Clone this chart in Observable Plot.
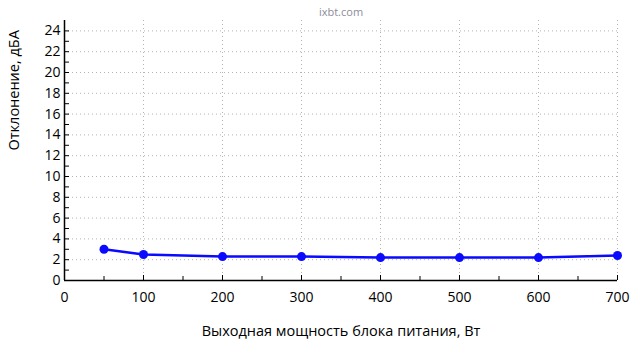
<!DOCTYPE html>
<html><head><meta charset="utf-8">
<script src="https://cdn.jsdelivr.net/npm/d3@7"></script>
<script src="https://cdn.jsdelivr.net/npm/@observablehq/plot@0.6"></script>
<style>body{margin:0;background:#fff;} #c{width:640px;height:360px;}</style>
</head><body><div id="c"></div>
<script>
const power = [50, 100, 200, 300, 400, 500, 600, 700];
const deviation = [3.0, 2.5, 2.3, 2.3, 2.2, 2.2, 2.2, 2.4];
const xMajor = [0, 100, 200, 300, 400, 500, 600, 700];
const xMinor = [50, 150, 250, 350, 450, 550, 650];
const yMajor = [0, 2, 4, 6, 8, 10, 12, 14, 16, 18, 20, 22, 24];
const yMinor = [1, 3, 5, 7, 9, 11, 13, 15, 17, 19, 21, 23];
const xGrid = [100, 200, 300, 400, 500, 600, 700];
const yGrid = [2, 4, 6, 8, 10, 12, 14, 16, 18, 20, 22, 24];
const xTitle = "Выходная мощность блока питания, Вт";
const yTitle = "Отклонение, дБА";
const watermark = "ixbt.com";

const data = power.map((p, i) => ({p, d: deviation[i]}));
const font = "'Open Sans', sans-serif";

const chart = Plot.plot({
  width: 640, height: 360,
  marginLeft: 64, marginRight: 23, marginTop: 20, marginBottom: 80,
  style: {fontFamily: font, fontSize: "13px", color: "#000", background: "#fff"},
  x: {domain: [0, 700]},
  y: {domain: [0, 25]},
  marks: [
    Plot.gridX(xGrid, {stroke: "#b4b4b4", strokeOpacity: 1, strokeDasharray: "1,3"}),
    Plot.gridY(yGrid, {stroke: "#b4b4b4", strokeOpacity: 1, strokeDasharray: "1,3"}),
    Plot.axisX(xMajor, {tickSize: -5, tickPadding: 17, label: null, fontSize: 14, fontWeight: 500, tickFormat: d => d}),
    Plot.axisX(xMinor, {tickSize: -4, tickFormat: () => "", label: null}),
    Plot.axisY(yMajor, {tickSize: -5, tickPadding: 9, label: null, fontSize: 14, fontWeight: 500}),
    Plot.axisY(yMinor, {tickSize: -5, tickFormat: () => "", label: null}),
    Plot.ruleX([0], {stroke: "#000", strokeWidth: 1.5}),
    Plot.ruleY([0], {stroke: "#000", strokeWidth: 1.5}),
    Plot.line(data, {x: "p", y: "d", stroke: "#0a0aff", strokeWidth: 2.5}),
    Plot.dot(data, {x: "p", y: "d", r: 4.5, fill: "#0a0aff", stroke: "none"}),
    Plot.text([xTitle], {frameAnchor: "bottom", dy: 55, fontSize: 14.5, fontWeight: 500, fill: "#000"}),
    Plot.text([yTitle], {frameAnchor: "left", dx: -50, rotate: -90, fontSize: 14.5, fontWeight: 500, fill: "#000"}),
    Plot.text([watermark], {frameAnchor: "top", dy: -12, fontSize: 11, fill: "#8c8c9a"})
  ]
});
document.getElementById("c").appendChild(chart);
</script>
</body></html>
